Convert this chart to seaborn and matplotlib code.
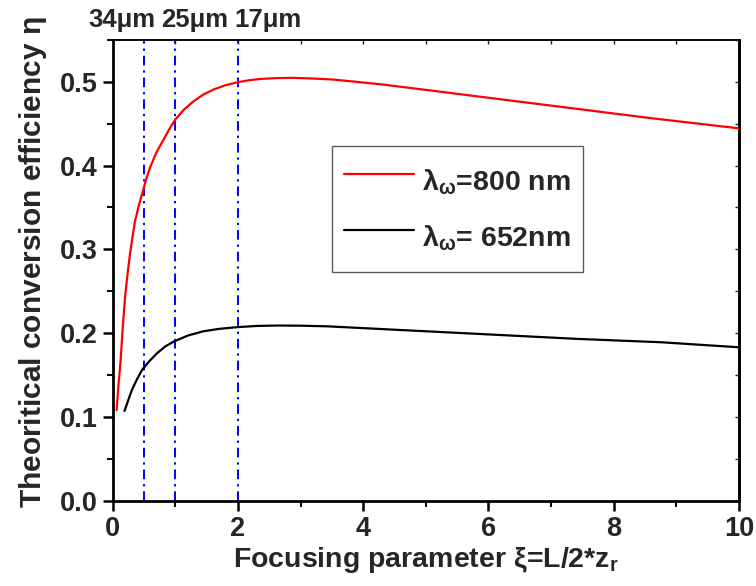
import matplotlib
matplotlib.use("Agg")
import matplotlib.pyplot as plt
import matplotlib.transforms as mtransforms
from matplotlib.ticker import MultipleLocator
import seaborn as sns
import pandas as pd

# ---- data ----
xi_800 = [0.064, 0.09, 0.128, 0.16, 0.198, 0.24, 0.278, 0.32, 0.358, 0.42, 0.481, 0.54,
          0.599, 0.70, 0.813, 0.90, 1.0, 1.14, 1.294, 1.45, 1.615, 1.80, 2.0, 2.18, 2.36,
          2.6, 2.885, 3.2, 3.52, 3.9, 4.32, 5.39, 6.45, 7.52, 8.58, 10.0]
eta_800 = [0.108, 0.135, 0.168, 0.205, 0.243, 0.272, 0.295, 0.316, 0.334, 0.353, 0.369, 0.385,
           0.398, 0.416, 0.431, 0.443, 0.455, 0.467, 0.477, 0.485, 0.491, 0.496, 0.4996, 0.502,
           0.5035, 0.5045, 0.5048, 0.504, 0.5028, 0.500, 0.4968, 0.4868, 0.4768, 0.4668,
           0.4568, 0.4445]

xi_652 = [0.19, 0.25, 0.31, 0.39, 0.47, 0.58, 0.71, 0.84, 0.98, 1.2, 1.44, 1.7, 1.98, 2.3,
          2.64, 3.0, 3.44, 4.1, 4.77, 6.10, 7.43, 8.76, 10.0]
eta_652 = [0.107, 0.120, 0.1325, 0.145, 0.156, 0.166, 0.176, 0.184, 0.190, 0.197, 0.202,
           0.205, 0.207, 0.2085, 0.209, 0.2088, 0.208, 0.2055, 0.203, 0.198, 0.193, 0.189,
           0.183]

series_labels = [r"$\mathregular{\lambda_{\omega}}$=800 nm", r"$\mathregular{\lambda_{\omega}}$= 652nm"]
series_colors = ["#ff0000", "#000000"]

vline_x = [0.5, 1.0, 2.0]
top_labels = ["34\u03bcm", "25\u03bcm", "17\u03bcm"]
top_label_x = [0.149, 1.315, 2.48]

x_label = r"Focusing parameter $\mathregular{\xi}$=L/2*z$_\mathregular{r}$"
y_label = r"Theoritical conversion efficiency $\mathregular{\eta}$"

df = pd.concat([
    pd.DataFrame({"xi": xi_800, "eta": eta_800, "series": series_labels[0]}),
    pd.DataFrame({"xi": xi_652, "eta": eta_652, "series": series_labels[1]}),
])

sns.set_style("ticks")
plt.rcParams["font.family"] = ["Liberation Sans", "DejaVu Sans"]
plt.rcParams["font.weight"] = "bold"
plt.rcParams["mathtext.fontset"] = "custom"
plt.rcParams["mathtext.rm"] = "Liberation Sans:bold"
plt.rcParams["mathtext.it"] = "Liberation Sans:bold"
plt.rcParams["mathtext.bf"] = "Liberation Sans:bold"

fig = plt.figure(figsize=(7.56, 5.86), dpi=100)
ax = fig.add_axes([0.149, 0.1459, 0.8285, 0.7858])

for xv in vline_x:
    ax.axvline(xv, color="#0000ff", lw=1.4, ls=(0, (5, 2.5, 1.2, 2.5)), zorder=1)

sns.lineplot(data=df, x="xi", y="eta", hue="series", palette=series_colors,
             hue_order=series_labels, lw=1.6, ax=ax, sort=False, estimator=None,
             zorder=3)

ax.set_xlim(0, 10)
ax.set_ylim(0, 0.55)
ax.xaxis.set_major_locator(MultipleLocator(2))
ax.xaxis.set_minor_locator(MultipleLocator(1))
ax.yaxis.set_minor_locator(MultipleLocator(0.05))
ax.set_yticks([0.0, 0.1, 0.2, 0.3, 0.4, 0.5])
ax.set_yticklabels(["0.0", "0.1", "0.2", "0.3", "0.4", "0.5"])

ax.tick_params(which="major", direction="out", length=7, width=1.8, labelsize=19.5,
               pad=4, color="black")
ax.tick_params(which="minor", direction="out", length=4, width=1.4, color="black")
for lab in ax.get_xticklabels() + ax.get_yticklabels():
    lab.set_fontweight("bold")

for side in ["left", "bottom", "right"]:
    ax.spines[side].set_linewidth(2.0)
    ax.spines[side].set_color("black")
    ax.spines[side].set_visible(True)
ax.spines["top"].set_visible(True)
ax.spines["top"].set_linewidth(1.2)
ax.spines["top"].set_color("black")

secx = ax.secondary_xaxis("top")
secx.xaxis.set_major_locator(MultipleLocator(1))
secx.tick_params(which="major", direction="in", length=3, width=1.0, labeltop=False)
secx.spines["top"].set_linewidth(1.2)
secy = ax.secondary_yaxis("right")
secy.yaxis.set_major_locator(MultipleLocator(0.05))
secy.tick_params(which="major", direction="in", length=3, width=1.0, labelright=False)
secy.spines["right"].set_linewidth(2.0)

ax.set_xlabel(x_label, fontsize=20.5, fontweight="bold", labelpad=2)
ax.set_ylabel(y_label, fontsize=21.5, fontweight="bold")
ax.yaxis.set_label_coords(-0.102, 0.518)

trans = mtransforms.blended_transform_factory(ax.transData, ax.transAxes)
for tx, tl in zip(top_label_x, top_labels):
    ax.text(tx, 1.028, tl, transform=trans, ha="center", va="baseline",
            fontsize=18.5, fontweight="bold", clip_on=False)

leg = ax.legend(loc="upper left", bbox_to_anchor=(0.350, 0.770), borderaxespad=0,
                frameon=True, fancybox=False, fontsize=20.5, handlelength=2.45,
                handleheight=2.15, handletextpad=0.3, labelspacing=0.32, borderpad=0.42)
leg.get_frame().set_edgecolor("#333333")
leg.get_frame().set_linewidth(1.0)
for line in leg.get_lines():
    line.set_linewidth(1.6)

fig.savefig("out.png", dpi=100)
